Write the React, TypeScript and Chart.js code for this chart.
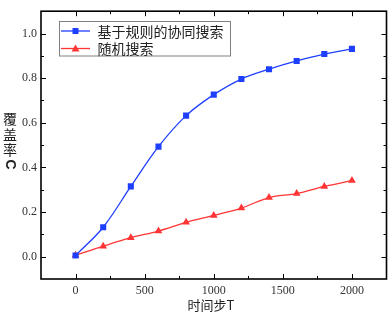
import { useEffect, useRef } from 'react';
import { Chart, registerables } from 'chart.js';

Chart.register(...registerables);

const steps = [0, 200, 400, 600, 800, 1000, 1200, 1400, 1600, 1800, 2000];
const ruleBased = [0.005, 0.132, 0.315, 0.493, 0.632, 0.726, 0.796, 0.84, 0.877, 0.908, 0.931];
const randomSearch = [0.006, 0.047, 0.085, 0.115, 0.154, 0.185, 0.218, 0.265, 0.283, 0.315, 0.341];
const seriesLabels = ['基于规则的协同搜索', '随机搜索'];
const xTicks = [0, 500, 1000, 1500, 2000];
const xMinorTicks = [250, 750, 1250, 1750];
const yTicks = [0, 0.2, 0.4, 0.6, 0.8, 1.0];
const yMinorTicks = [0.1, 0.3, 0.5, 0.7, 0.9];
const xTitle = '时间步T';
const yTitleChars = ['覆', '盖', '率'];
const yTitleLatin = 'C';

const BLUE = '#1f3fff';
const RED = '#ff3535';

export default function App() {
  const ref = useRef<HTMLCanvasElement | null>(null);
  useEffect(() => {
    document.body.style.margin = '0';
    const canvas = ref.current;
    if (!canvas) return;

    const framePlugin = {
      id: 'frame',
      afterDatasetsDraw(chart: any) {
        const { ctx, chartArea } = chart;
        const { left, right, top, bottom } = chartArea;
        const xs = chart.scales.x;
        const ys = chart.scales.y;
        ctx.save();
        ctx.strokeStyle = '#000';
        ctx.lineWidth = 1;
        const tick = (x1: number, y1: number, x2: number, y2: number) => {
          ctx.beginPath();
          ctx.moveTo(x1, y1);
          ctx.lineTo(x2, y2);
          ctx.stroke();
        };
        xTicks.forEach((v) => {
          const p = Math.round(xs.getPixelForValue(v)) + 0.5;
          tick(p, bottom, p, bottom - 5);
          tick(p, top, p, top + 5);
        });
        xMinorTicks.forEach((v) => {
          const p = Math.round(xs.getPixelForValue(v)) + 0.5;
          tick(p, bottom, p, bottom - 3);
          tick(p, top, p, top + 3);
        });
        yTicks.forEach((v) => {
          const p = Math.round(ys.getPixelForValue(v)) + 0.5;
          tick(left, p, left + 5, p);
          tick(right, p, right - 5, p);
        });
        yMinorTicks.forEach((v) => {
          const p = Math.round(ys.getPixelForValue(v)) + 0.5;
          tick(left, p, left + 3, p);
          tick(right, p, right - 3, p);
        });
        ctx.lineWidth = 1.6;
        ctx.strokeRect(left, top, right - left, bottom - top);

        // legend
        const bx = 59.5, by = 21.5, bw = 171, bh = 34.5;
        ctx.fillStyle = '#fff';
        ctx.fillRect(bx, by, bw, bh);
        ctx.lineWidth = 1;
        ctx.strokeStyle = '#808080';
        ctx.strokeRect(bx, by, bw, bh);
        const rows = [31, 48.5];
        const colors = [BLUE, RED];
        rows.forEach((ry, i) => {
          ctx.strokeStyle = colors[i];
          ctx.lineWidth = 1.3;
          ctx.beginPath();
          ctx.moveTo(61, ry);
          ctx.lineTo(90, ry);
          ctx.stroke();
          ctx.fillStyle = colors[i];
          if (i === 0) {
            ctx.fillRect(72.5, ry - 3, 6, 6);
          } else {
            ctx.beginPath();
            ctx.moveTo(75.5, ry - 4);
            ctx.lineTo(79.5, ry + 3);
            ctx.lineTo(71.5, ry + 3);
            ctx.closePath();
            ctx.fill();
          }
          ctx.fillStyle = '#222';
          ctx.font = '14px "Noto Sans CJK SC"';
          ctx.textBaseline = 'middle';
          ctx.textAlign = 'left';
          ctx.fillText(chart.data.datasets[i].label, 97.5, ry + 0.5);
        });

        // axis titles
        ctx.fillStyle = '#222';
        ctx.font = '13px "Noto Sans CJK SC"';
        ctx.textAlign = 'center';
        ctx.textBaseline = 'middle';
        ctx.fillText(xTitle, 211, 305);
        ctx.font = '14px "Noto Sans CJK SC"';
        const cys = [118.5, 134.5, 150];
        yTitleChars.forEach((c, i) => ctx.fillText(c, 10, cys[i]));
        ctx.save();
        ctx.translate(10, 164.5);
        ctx.rotate(Math.PI / 2);
        ctx.font = 'bold 14px "Liberation Sans"';
        ctx.fillText(yTitleLatin, 0, 0);
        ctx.restore();
        ctx.restore();
      },
    };

    const tickFont = { family: 'Liberation Serif, serif', size: 12 };
    const chart = new Chart(canvas, {
      type: 'line',
      data: {
        labels: steps,
        datasets: [
          {
            label: seriesLabels[0],
            data: steps.map((s, i) => ({ x: s, y: ruleBased[i] })),
            borderColor: BLUE,
            backgroundColor: BLUE,
            borderWidth: 1.3,
            pointStyle: 'rect',
            pointRadius: 4.3,
            pointBorderWidth: 0,
            tension: 0.35,
          },
          {
            label: seriesLabels[1],
            data: steps.map((s, i) => ({ x: s, y: randomSearch[i] })),
            borderColor: RED,
            backgroundColor: RED,
            borderWidth: 1.3,
            pointStyle: 'triangle',
            pointRadius: 4.5,
            pointBorderWidth: 0,
            tension: 0.35,
          },
        ],
      },
      options: {
        animation: false,
        responsive: false,
        maintainAspectRatio: false,
        devicePixelRatio: 1,
        layout: { padding: { top: 2, right: 1, left: 0, bottom: 0 } },
        plugins: { legend: { display: false }, tooltip: { enabled: false } },
        scales: {
          x: {
            type: 'linear',
            min: -250,
            max: 2250,
            grid: { display: false, drawTicks: false },
            border: { display: false },
            ticks: {
              padding: 5,
              font: tickFont,
              color: '#333',
              maxRotation: 0,
              callback: (v: any) => String(v),
            },
            afterBuildTicks: (s: any) => {
              s.ticks = xTicks.map((v) => ({ value: v }));
            },
            afterFit: (s: any) => {
              s.height = 36;
            },
          },
          y: {
            type: 'linear',
            min: -0.1,
            max: 1.1,
            grid: { display: false, drawTicks: false },
            border: { display: false },
            ticks: {
              padding: 4,
              font: tickFont,
              color: '#333',
              callback: (v: any) => Number(v).toFixed(1),
            },
            afterBuildTicks: (s: any) => {
              s.ticks = yTicks.map((v) => ({ value: v }));
            },
            afterFit: (s: any) => {
              s.width = 41;
            },
          },
        },
      },
      plugins: [framePlugin],
    });
    return () => chart.destroy();
  }, []);
  return (
    <div style={{ width: 391, height: 315, background: '#fff' }}>
      <canvas ref={ref} width={391} height={315} />
    </div>
  );
}
